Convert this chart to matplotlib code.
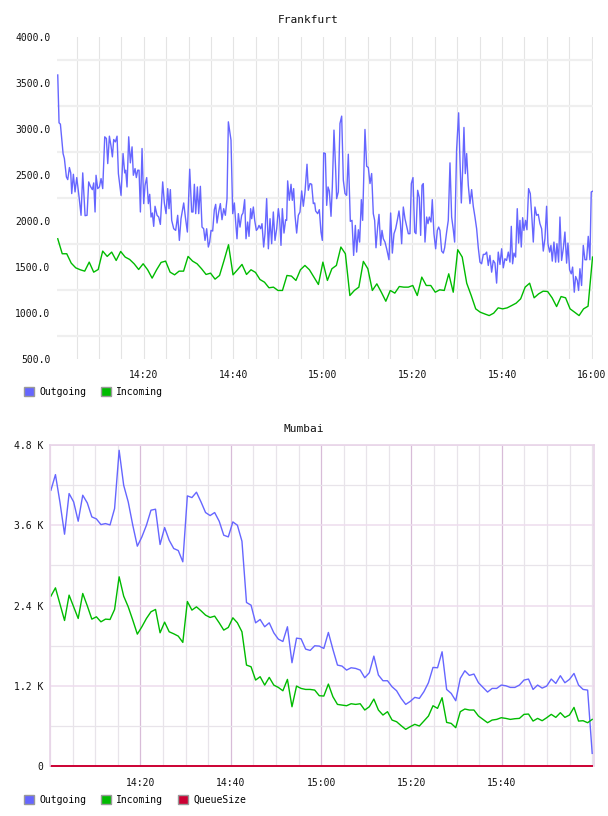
import numpy as np
import matplotlib
matplotlib.use("Agg")
import matplotlib.pyplot as plt
from matplotlib.patches import Patch
from matplotlib.ticker import FuncFormatter, MultipleLocator, FixedLocator

# ---- Frankfurt: minutes after 14:00 and values ----
fra_out_min = [
    0.80, 1.09, 1.39, 1.99, 2.28, 2.73, 3.03, 3.40, 3.70, 3.92,
    4.29, 4.66, 5.04, 5.56, 6.00, 6.38, 6.90, 7.34, 7.71, 8.09,
    8.53, 8.83, 9.13, 9.35, 9.72, 10.10, 10.47, 10.84, 11.29, 11.66,
    11.96, 12.33, 12.70, 13.00, 13.29, 13.67, 14.04, 14.34, 14.93, 15.38,
    15.75, 15.97, 16.27, 16.64, 17.01, 17.39, 17.68, 18.06, 18.35, 18.65,
    18.95, 19.25, 19.62, 19.99, 20.29, 20.66, 21.03, 21.33, 21.63, 21.92,
    22.22, 22.52, 22.97, 23.34, 23.71, 24.23, 24.60, 24.98, 25.35, 25.64,
    25.94, 26.24, 26.69, 27.13, 27.58, 27.95, 28.32, 28.92, 29.29, 29.74,
    30.26, 30.70, 31.00, 31.30, 31.60, 31.97, 32.27, 32.64, 33.01, 33.38,
    33.68, 34.05, 34.42, 34.72, 35.02, 35.39, 35.76, 36.06, 36.36, 36.73,
    37.10, 37.47, 37.85, 38.22, 38.59, 38.89, 39.48, 39.86, 40.23, 40.52,
    40.82, 41.12, 41.49, 41.86, 42.16, 42.53, 42.83, 43.20, 43.50, 43.87,
    44.10, 44.47, 44.77, 45.14, 45.44, 45.73, 46.10, 46.40, 46.77, 47.07,
    47.44, 47.82, 48.19, 48.56, 48.93, 49.30, 49.68, 50.05, 50.35, 50.64,
    50.94, 51.31, 51.68, 51.91, 52.13, 52.50, 52.88, 53.17, 53.47, 53.77,
    54.14, 54.51, 54.88, 55.26, 55.63, 56.00, 56.45, 56.74, 57.12, 57.49,
    57.86, 58.16, 58.38, 58.83, 59.20, 59.57, 59.87, 60.17,
    60.54, 60.84, 61.14, 61.43, 61.81, 62.10, 62.47, 62.85, 63.07, 63.44,
    63.81, 64.19, 64.56, 64.93, 65.30, 65.67, 66.12, 66.49, 66.86, 67.24,
    67.53, 67.91, 68.20, 68.58, 68.87, 69.39, 69.77, 70.14, 70.51, 70.88,
    71.25, 71.55, 71.85, 72.22, 72.52, 72.89, 73.19, 73.49, 73.86, 74.23,
    74.75, 75.12, 75.50, 75.87, 76.24, 76.61, 76.98, 77.28, 77.58, 77.95,
    78.32, 78.69, 79.07, 79.44, 79.74, 80.11, 80.48, 80.78, 81.15, 81.52,
    81.82, 82.12, 82.41, 82.79, 83.16, 83.46, 83.75, 84.13, 84.42, 84.79,
    85.17, 85.54, 85.84, 86.13, 86.51, 86.88, 87.18, 87.62, 87.99, 88.37,
    88.74, 89.11, 89.41, 89.85, 90.30, 90.60, 90.90, 91.19, 91.49, 91.79,
    92.09, 92.46, 92.83, 93.20, 93.57, 93.95, 94.32, 94.69, 95.06, 95.43,
    95.81, 96.18, 96.55, 96.92, 97.29, 97.67, 98.04, 98.41, 98.78, 99.15,
    99.53, 99.90, 100.27, 100.64, 101.01, 101.39, 101.76, 102.06, 102.35, 102.65,
    103.02, 103.39, 103.69, 103.99, 104.29, 104.59, 104.88, 105.25, 105.55, 105.92,
    106.30, 106.67, 106.97, 107.34, 107.71, 108.08, 108.45, 108.83, 109.20, 109.57,
    109.94, 110.24, 110.61, 110.91, 111.21, 111.58, 111.95, 112.25, 112.62, 112.92,
    113.29, 113.66, 114.03, 114.41, 114.70, 115.08, 115.45, 115.75, 116.12, 116.42,
    116.79, 117.08, 117.38, 117.75, 118.13, 118.50, 118.87, 119.24, 119.61, 119.91,
    120.21,
]
fra_out = [
    3587, 3067, 3053, 2733, 2679, 2479, 2450, 2581, 2523, 2298,
    2508, 2316, 2472, 2261, 2062, 2523, 2058, 2062, 2425, 2377,
    2341, 2414, 2098, 2497, 2352, 2370, 2461, 2352, 2915, 2897,
    2624, 2922, 2813, 2697, 2886, 2860, 2922, 2515, 2279, 2733,
    2523, 2552, 2370, 2915, 2632, 2806, 2497, 2570, 2472, 2552,
    2552, 2098, 2788, 2189, 2388, 2472, 2189, 2290, 2043, 2087,
    1942, 2160, 2062, 2043, 1963, 2425, 2196, 2080, 2352, 2134,
    2341, 2007, 1916, 1898, 2062, 1789, 2025, 2196, 2043, 1880,
    2563, 2098, 2098, 2399, 2080, 2370, 2080, 2377, 1934, 1916,
    1789, 1916, 1717, 1771, 1898, 1891, 2123, 2181, 1978, 2098,
    2189, 2014, 2134, 2062, 2243, 3078, 2879, 2080, 2196, 1989,
    1807, 2080, 1934, 2062, 2087, 2232, 1807, 1989, 1833, 2134,
    2025, 2152, 2007, 1898, 1916, 1952, 1916, 1971, 1717, 1862,
    2243, 1698, 2025, 1753, 2098, 1789, 1916, 2134, 2014, 1735,
    2134, 1869, 2014, 2007, 2436, 2225, 2399, 2225, 2352, 2062,
    1869, 2062, 2098, 2327, 2160, 2316, 2617, 2334, 2407, 2399,
    2189, 2196, 2109, 2080, 2123, 1880, 1789, 2741,
    2733, 2170, 2370, 2327, 2051, 2370, 2988, 2552, 2243, 2316,
    3060, 3140, 2443, 2298, 2279, 2726, 1996, 2007, 1626, 1952,
    1662, 1905, 1771, 2232, 2007, 2995, 2595, 2581, 2407, 2516,
    2080, 2007, 1709, 1934, 2072, 1735, 1898, 1807, 1771, 1698,
    1579, 2087, 1651, 1862, 1916, 2007, 2109, 1989, 1753, 2152,
    2025, 1942, 1862, 1862, 2407, 2472, 1880, 1862, 2334, 2254,
    1844, 2388, 2407, 1771, 2043, 1971, 2043, 1989, 2232, 1862,
    1698, 1898, 1934, 1898, 1673, 1651, 1709, 1880, 2007, 2632,
    2043, 1905, 1771, 2777, 3176, 2661, 2196, 2552, 3017, 2515,
    2733, 2388, 2189, 2341, 2160, 2043, 1916, 1709, 1553, 1535,
    1637, 1637, 1662, 1517, 1626, 1444, 1571, 1542, 1325, 1662,
    1528, 1698, 1491, 1590, 1571, 1662, 1553, 1942, 1535, 1651,
    1608, 2134, 1760, 2007, 1717, 2036, 1898, 2007, 1905, 2352,
    2298, 2025, 1771, 2152, 2062, 2072, 1971, 1916, 1673, 1807,
    2160, 1753, 1662, 1735, 1564, 1771, 1553, 1753, 1553, 2043,
    1571, 1698, 1880, 1542, 1760, 1470, 1426, 1499, 1226, 1397,
    1354, 1245, 1481, 1299, 1735, 1579, 1579, 1833, 1579, 2316,
    2323,
]
# incoming is sampled once a minute
fra_in = [
    1807, 1644, 1644, 1542, 1491, 1470, 1455, 1553, 1444, 1473,
    1673, 1615, 1662, 1571, 1669, 1608, 1582, 1535, 1473, 1535,
    1470, 1379, 1470, 1550, 1564, 1444, 1415, 1455, 1455, 1615,
    1564, 1535, 1481, 1419, 1433, 1368, 1408, 1571, 1742, 1415,
    1470, 1528, 1419, 1470, 1441, 1364, 1335, 1274, 1281, 1245,
    1245, 1408, 1401, 1354, 1470, 1517, 1470, 1390, 1310, 1553,
    1354, 1481, 1517, 1717, 1644, 1190, 1245, 1281, 1561, 1481,
    1245, 1317, 1226, 1128, 1245, 1216, 1288, 1281, 1281, 1299,
    1190, 1390, 1299, 1299, 1226, 1252, 1245, 1426, 1226, 1688,
    1608, 1324, 1190, 1045, 1009, 990, 972, 998, 1056, 1045,
    1056, 1081, 1107, 1154, 1281, 1324, 1165, 1208, 1237, 1234,
    1165, 1070, 1179, 1165, 1045, 1009, 972, 1045, 1074, 1608,
]
fra_in_min = np.linspace(0.8, 120.2, len(fra_in))

# ---- Mumbai: one sample a minute ----
mum_out = [
    4123, 4357, 3939, 3466, 4074, 3949, 3660, 4049, 3934, 3725,
    3695, 3610, 3625, 3605, 3850, 4721, 4198, 3949, 3600, 3287,
    3426, 3600, 3825, 3840, 3312, 3566, 3376, 3252, 3222, 3053,
    4039, 4014, 4094, 3949, 3790, 3745, 3790, 3660, 3451, 3426,
    3650, 3600, 3361, 2445, 2405, 2141, 2191, 2082, 2141, 1992,
    1897, 1862, 2082, 1544, 1912, 1902, 1748, 1728, 1798, 1793,
    1758, 1997, 1743, 1509, 1494, 1434, 1469, 1459, 1434, 1320,
    1394, 1643, 1360, 1275, 1275, 1185, 1125, 1011, 921, 966,
    1026, 1011, 1111, 1245, 1474, 1469, 1708, 1145, 1086, 976,
    1310, 1424, 1355, 1375, 1245, 1175, 1106, 1160, 1160, 1210,
    1200, 1175, 1175, 1210, 1285, 1300, 1145, 1210, 1165, 1195,
    1300, 1235, 1350, 1245, 1295, 1384, 1210, 1145, 1135, 189,
]
mum_in = [
    2540, 2664, 2420, 2176, 2555, 2380, 2206, 2580, 2395, 2196,
    2231, 2156, 2196, 2191, 2341, 2829, 2540, 2380, 2181, 1972,
    2082, 2206, 2306, 2341, 1992, 2151, 2007, 1977, 1942, 1848,
    2460, 2331, 2380, 2321, 2256, 2221, 2241, 2141, 2032, 2072,
    2216, 2141, 2007, 1509, 1484, 1285, 1335, 1210, 1325, 1210,
    1175, 1125, 1295, 886, 1195, 1160, 1145, 1145, 1135, 1051,
    1046, 1225, 1036, 921, 911, 901, 931, 921, 931, 837,
    886, 1001, 837, 762, 812, 687, 662, 603, 548, 588,
    623, 598, 672, 747, 901, 862, 1021, 652, 637, 573,
    812, 852, 837, 837, 747, 697, 647, 687, 697, 722,
    712, 697, 707, 712, 772, 777, 672, 712, 677, 722,
    772, 727, 797, 727, 762, 876, 672, 677, 647, 697,
]
mum_queue = [0] * len(mum_out)
mum_min = np.linspace(0.2, 120.0, len(mum_out))

BLUE = "#6666ff"
GREEN = "#00bb00"
RED = "#cc0033"
TXT = "#111111"

plt.rcParams["font.family"] = "DejaVu Sans Mono"
plt.rcParams["font.size"] = 7


def hhmm(m, pos):
    m = int(round(m))
    return f"{14 + m // 60}:{m % 60:02d}"


def kilo(v, pos):
    return "0" if v == 0 else f"{v / 1000:.1f} K"


W, H = 608, 816
fig = plt.figure(figsize=(W / 100, H / 100), dpi=100)

# ---------------- Frankfurt ----------------
ax1 = fig.add_axes([57.3 / W, 1 - 359 / H, (593 - 57.3) / W, 322 / H])
ax1.plot(fra_out_min, fra_out, color=BLUE, lw=1.0)
ax1.plot(fra_in_min, fra_in, color=GREEN, lw=1.0)
ax1.set_xlim(0.7, 120.3)
ax1.set_ylim(500, 4000)
ax1.xaxis.set_major_locator(MultipleLocator(20))
ax1.xaxis.set_minor_locator(MultipleLocator(5))
ax1.xaxis.set_major_formatter(FuncFormatter(hhmm))
ax1.yaxis.set_major_locator(MultipleLocator(500))
ax1.yaxis.set_minor_locator(FixedLocator(np.arange(750, 4000, 500)))
ax1.yaxis.set_major_formatter(FuncFormatter(lambda v, p: f"{v:.1f}"))
ax1.grid(which="both", axis="x", color="#e4e4e4", lw=0.8)
ax1.grid(which="minor", axis="y", color="#efefef", lw=1.6)
ax1.set_axisbelow(True)
for s in ax1.spines.values():
    s.set_visible(False)
ax1.tick_params(which="both", length=0, colors=TXT)
ax1.tick_params(axis="x", pad=8)
ax1.tick_params(axis="y", pad=5)
fig.text(308 / W, 1 - 20 / H, "Frankfurt", ha="center", va="center",
         fontsize=8, color=TXT)

fig.legend(handles=[Patch(facecolor=BLUE, edgecolor="#999999", label="Outgoing"),
                    Patch(facecolor=GREEN, edgecolor="#999999", label="Incoming")],
           loc="center left", bbox_to_anchor=(24 / W, 1 - 392 / H), ncol=2,
           frameon=False, fontsize=7, handlelength=1.05, handleheight=1.1,
           handletextpad=0.5, columnspacing=1.55, borderpad=0, borderaxespad=0)

# ---------------- Mumbai ----------------
ax2 = fig.add_axes([50 / W, 1 - 766 / H, 544 / W, 321 / H])
ax2.plot(mum_min, mum_out, color=BLUE, lw=1.0)
ax2.plot(mum_min, mum_in, color=GREEN, lw=1.0)
ax2.plot(mum_min, mum_queue, color=RED, lw=1.4, clip_on=False)
ax2.set_xlim(0, 120.4)
ax2.set_ylim(0, 4800)
ax2.xaxis.set_major_locator(FixedLocator([20, 40, 60, 80, 100]))
ax2.xaxis.set_minor_locator(MultipleLocator(5))
ax2.xaxis.set_major_formatter(FuncFormatter(hhmm))
ax2.yaxis.set_major_locator(MultipleLocator(1200))
ax2.yaxis.set_minor_locator(MultipleLocator(600))
ax2.yaxis.set_major_formatter(FuncFormatter(kilo))
ax2.grid(which="minor", color="#e8e4ea", lw=0.9)
ax2.grid(which="major", axis="y", color="#eedcee", lw=1.1)
ax2.grid(which="major", axis="x", color="#d8bcd8", lw=0.9)
ax2.set_axisbelow(True)
for side in ("left", "top", "right"):
    ax2.spines[side].set_color("#e8d4e8")
    ax2.spines[side].set_linewidth(1.2)
ax2.spines["bottom"].set_visible(False)
ax2.tick_params(which="both", length=0, colors=TXT)
ax2.tick_params(axis="x", pad=9)
ax2.tick_params(axis="y", pad=5)
fig.text(304 / W, 1 - 429 / H, "Mumbai", ha="center", va="center",
         fontsize=8, color=TXT)

fig.legend(handles=[Patch(facecolor=BLUE, edgecolor="#999999", label="Outgoing"),
                    Patch(facecolor=GREEN, edgecolor="#999999", label="Incoming"),
                    Patch(facecolor=RED, edgecolor="#999999", label="QueueSize")],
           loc="center left", bbox_to_anchor=(24 / W, 1 - 800 / H), ncol=3,
           frameon=False, fontsize=7, handlelength=1.05, handleheight=1.1,
           handletextpad=0.5, columnspacing=1.55, borderpad=0, borderaxespad=0)

fig.savefig("out.png", dpi=100)
